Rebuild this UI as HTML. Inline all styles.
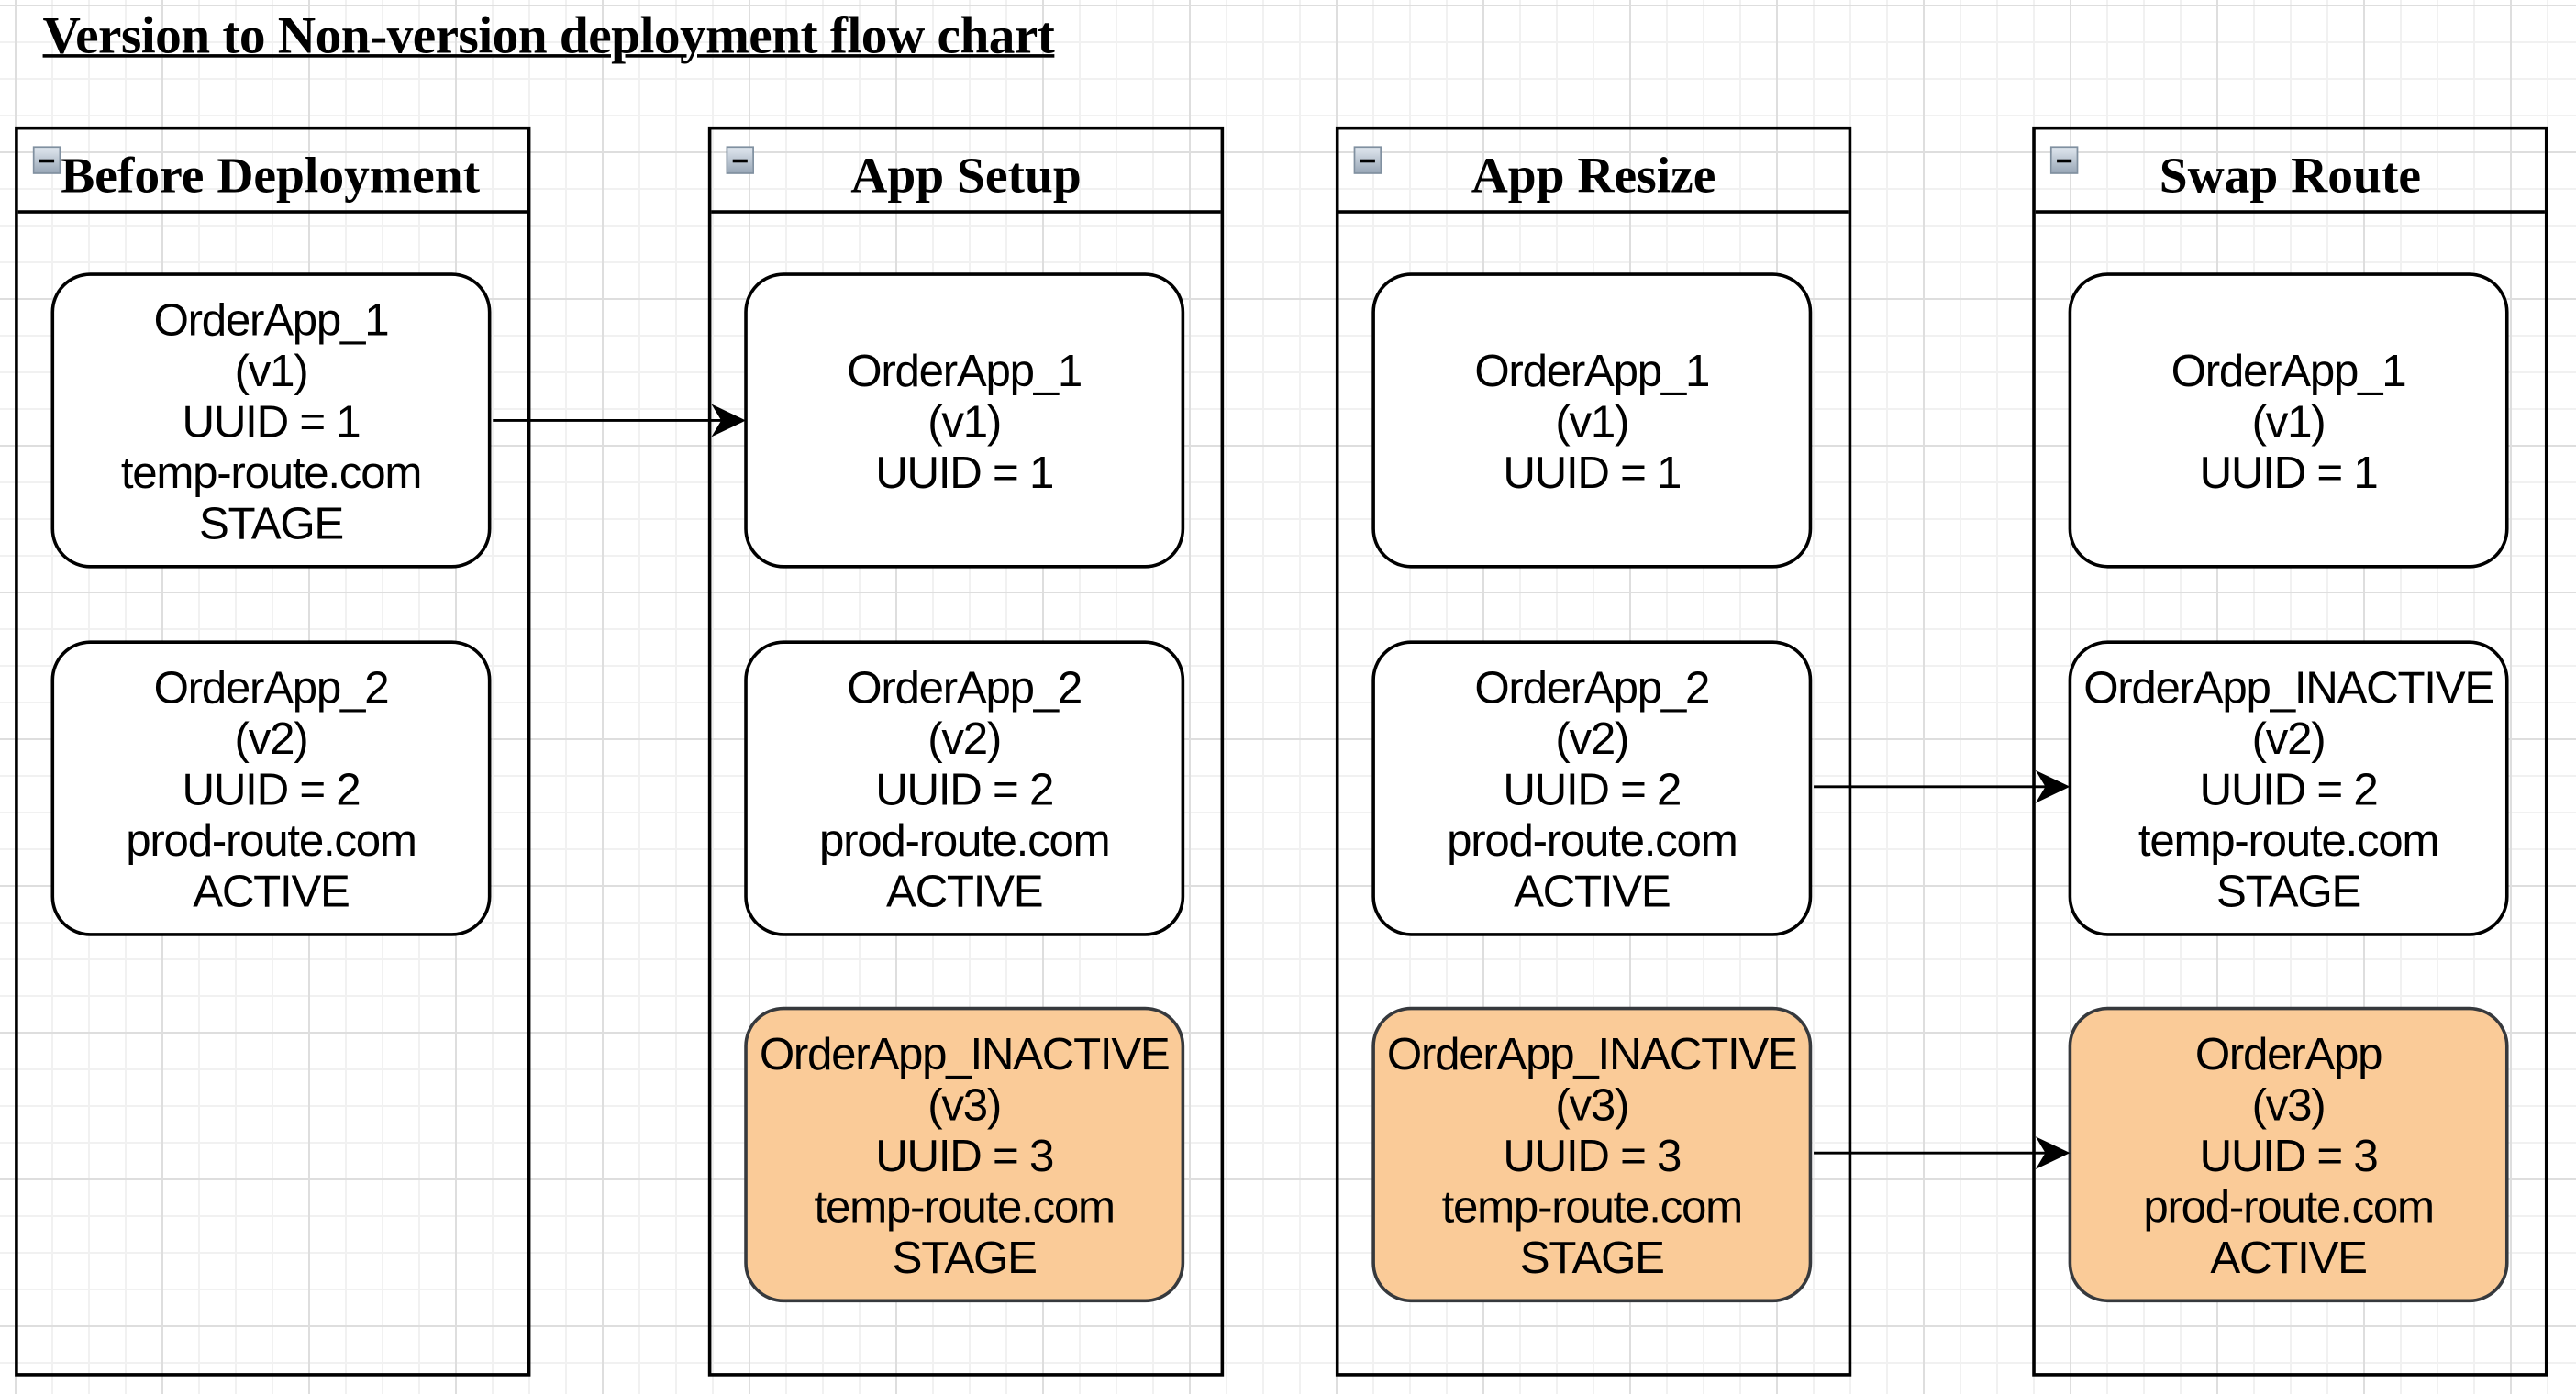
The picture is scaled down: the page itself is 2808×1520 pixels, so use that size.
<!DOCTYPE html>
<html><head><meta charset="utf-8"><style>
html,body{margin:0;padding:0}
body{width:2808px;height:1520px;overflow:hidden;position:relative;background:#fff;
background-image:
linear-gradient(to right,#dedede 2px,transparent 2px),
linear-gradient(to bottom,#dedede 2px,transparent 2px),
linear-gradient(to right,#f1f1f1 2px,transparent 2px),
linear-gradient(to bottom,#f1f1f1 2px,transparent 2px);
background-size:160px 160px,160px 160px,40px 40px,40px 40px;
background-position:16px 0,0 5px,16px 0,0 5px;}
#w{position:absolute;left:0;top:0;width:1568px;height:849px;transform:scale(1.7908);transform-origin:0 0}
.t{position:absolute;left:26px;top:3px;font:bold 32px "Liberation Serif",serif;text-decoration:underline;text-decoration-thickness:2px;white-space:nowrap;letter-spacing:-0.3px}
.lane{position:absolute;top:77px;width:310px;height:757px;border:2px solid #000;}
.hd{position:absolute;left:0;top:0;right:0;height:49px;border-bottom:2px solid #000;font:bold 31px "Liberation Serif",serif;text-align:center;line-height:56px;white-space:nowrap}
.ic{position:absolute;left:9px;top:10px;width:17px;height:17px;background:linear-gradient(#dfe6ee,#9aa8b8);border:1px solid #8090a0;box-sizing:border-box}
.ic:after{content:"";position:absolute;left:3px;top:7px;width:9px;height:2px;background:#000}
.n{position:absolute;width:264px;height:176px;border:2px solid #000;border-radius:24px;background:#fff;
display:flex;align-items:center;justify-content:center;text-align:center;font:27.5px/31px "Liberation Sans",sans-serif;letter-spacing:-0.7px;white-space:nowrap}
.o{background:#facb98;border-color:#36393d}
svg{position:absolute;left:0;top:0}
</style></head><body><div id="w">
<div class="t">Version to Non-version deployment flow chart</div>

<div class="lane" style="left:9px"><div class="hd" style="text-align:left;padding-left:26px">Before Deployment</div><div class="ic"></div></div>
<div class="lane" style="left:431px"><div class="hd">App Setup</div><div class="ic"></div></div>
<div class="lane" style="left:813px"><div class="hd">App Resize</div><div class="ic"></div></div>
<div class="lane" style="left:1237px"><div class="hd">Swap Route</div><div class="ic"></div></div>

<div class="n" style="left:31px;top:166px">OrderApp_1<br>(v1)<br>UUID = 1<br>temp-route.com<br>STAGE</div>
<div class="n" style="left:31px;top:390px">OrderApp_2<br>(v2)<br>UUID = 2<br>prod-route.com<br>ACTIVE</div>

<div class="n" style="left:453px;top:166px">OrderApp_1<br>(v1)<br>UUID = 1</div>
<div class="n" style="left:453px;top:390px">OrderApp_2<br>(v2)<br>UUID = 2<br>prod-route.com<br>ACTIVE</div>
<div class="n o" style="left:453px;top:613px">OrderApp_INACTIVE<br>(v3)<br>UUID = 3<br>temp-route.com<br>STAGE</div>

<div class="n" style="left:835px;top:166px">OrderApp_1<br>(v1)<br>UUID = 1</div>
<div class="n" style="left:835px;top:390px">OrderApp_2<br>(v2)<br>UUID = 2<br>prod-route.com<br>ACTIVE</div>
<div class="n o" style="left:835px;top:613px">OrderApp_INACTIVE<br>(v3)<br>UUID = 3<br>temp-route.com<br>STAGE</div>

<div class="n" style="left:1259px;top:166px">OrderApp_1<br>(v1)<br>UUID = 1</div>
<div class="n" style="left:1259px;top:390px">OrderApp_INACTIVE<br>(v2)<br>UUID = 2<br>temp-route.com<br>STAGE</div>
<div class="n o" style="left:1259px;top:613px">OrderApp<br>(v3)<br>UUID = 3<br>prod-route.com<br>ACTIVE</div>

<svg width="1568" height="849">
<g stroke="#000" stroke-width="1.6" fill="none">
<line x1="300" y1="256" x2="445" y2="256"/>
<line x1="1104" y1="479" x2="1251" y2="479"/>
<line x1="1104" y1="702" x2="1251" y2="702"/>
</g>
<g fill="#000">
<polygon points="454,256 433,246 439,256 433,266"/>
<polygon points="1260,479 1239,469 1245,479 1239,489"/>
<polygon points="1260,702 1239,692 1245,702 1239,712"/>
</g>
</svg>
</div></body></html>
